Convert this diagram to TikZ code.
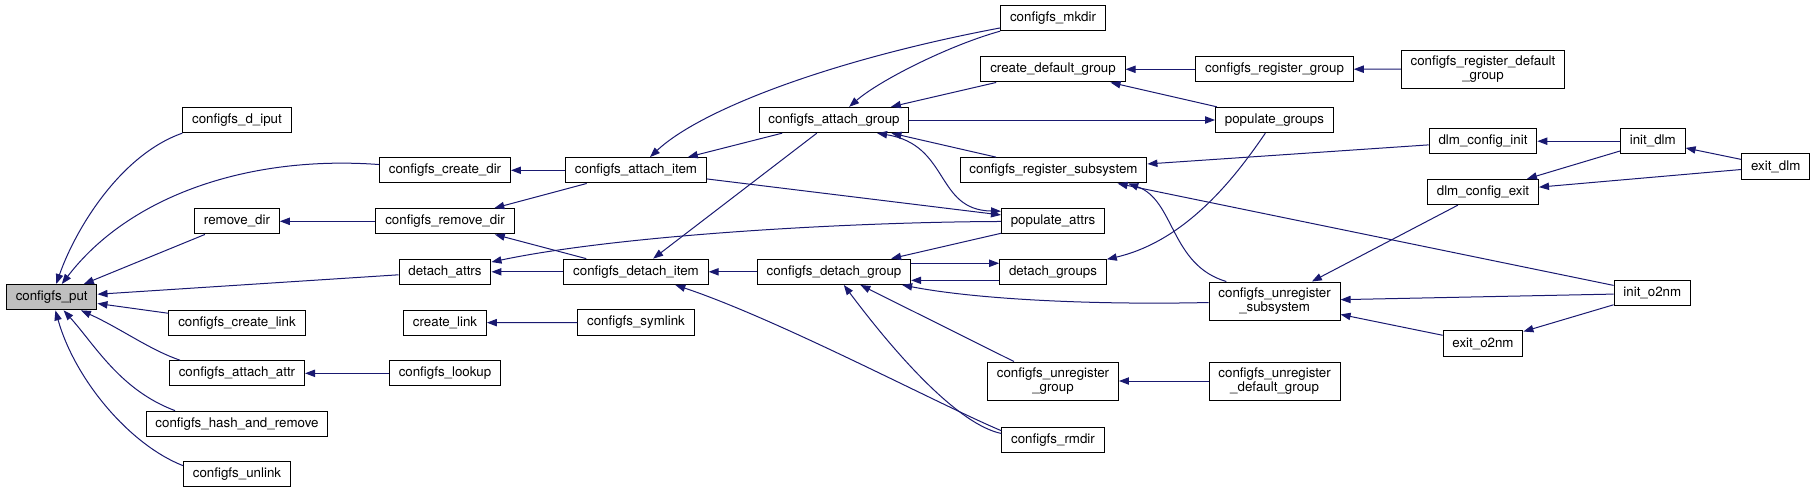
\documentclass[tikz,border=0pt]{standalone}
\usepackage{fontspec}
\setmainfont{TeX Gyre Heros}
\usetikzlibrary{arrows.meta}
\definecolor{dxEdge}{HTML}{191970}
\definecolor{dxRoot}{HTML}{BFBFBF}
\tikzset{
    % function boxes
    fn/.style={rectangle,draw=black,fill=white,line width=0.75pt,inner xsep=7pt,inner ysep=4pt,minimum height=19pt,align=center,font=\fontsize{10}{11}\selectfont},
    rootfn/.style={fn,fill=dxRoot},
    % call edges, tip at the callee
    call/.style={<-,line width=0.75pt,dxEdge},
    both/.style={<->,line width=0.75pt,dxEdge}
}

\begin{document}
\begin{tikzpicture}[x=0.75pt,y=-0.75pt,>={Triangle[length=7.5pt,width=5.5pt]}]
    \useasboundingbox (0,0) rectangle (1816,493);

    % Column 0
    \node[rootfn] (put) at (51.7,297.2) {configfs\_put};

    % Column 1
    \node[fn] (diput) at (237,120) {configfs\_d\_iput};
    \node[fn] (removedir) at (237,221.3) {remove\_dir};
    \node[fn] (cfglink) at (237,322.7) {configfs\_create\_link};
    \node[fn] (attachattr) at (237,373.3) {configfs\_attach\_attr};
    \node[fn] (hashremove) at (237,423.8) {configfs\_hash\_and\_remove};
    \node[fn] (unlink) at (237,474.2) {configfs\_unlink};

    % Column 2
    \node[fn] (createdir) at (445,170.3) {configfs\_create\_dir};
    \node[fn] (cfgremovedir) at (445,221.3) {configfs\_remove\_dir};
    \node[fn] (detachattrs) at (445,271.8) {detach\_attrs};
    \node[fn] (createlink) at (445,322.7) {create\_link};
    \node[fn] (lookup) at (445,373.3) {configfs\_lookup};

    % Column 3
    \node[fn] (attachitem) at (636,170.3) {configfs\_attach\_item};
    \node[fn] (detachitem) at (636,271.8) {configfs\_detach\_item};
    \node[fn] (symlink) at (636,322.5) {configfs\_symlink};

    % Column 4
    \node[fn] (attachgroup) at (834,120) {configfs\_attach\_group};
    \node[fn] (detachgroup) at (834,271.8) {configfs\_detach\_group};

    % Column 5
    \node[fn] (mkdir) at (1053,18) {configfs\_mkdir};
    \node[fn] (defgroup) at (1053,69.3) {create\_default\_group};
    \node[fn] (regsub) at (1053.5,170.3) {configfs\_register\_subsystem};
    \node[fn] (popattrs) at (1053,221.3) {populate\_attrs};
    \node[fn] (detachgroups) at (1053,271.8) {detach\_groups};
    \node[fn] (unreggroup) at (1053,381) {configfs\_unregister\\\_group};
    \node[fn] (rmdir) at (1053,439.8) {configfs\_rmdir};

    % Column 6
    \node[fn] (reggroup) at (1274.5,69.3) {configfs\_register\_group};
    \node[fn] (popgroups) at (1274.4,120) {populate\_groups};
    \node[fn] (unregsub) at (1274.6,301) {configfs\_unregister\\\_subsystem};
    \node[fn] (unregdefgroup) at (1274.6,381) {configfs\_unregister\\\_default\_group};

    % Column 7
    \node[fn] (regdefgroup) at (1483,69) {configfs\_register\_default\\\_group};
    \node[fn] (dlminit) at (1483,141.2) {dlm\_config\_init};
    \node[fn] (dlmexit) at (1483,192) {dlm\_config\_exit};
    \node[fn] (exito2nm) at (1483,343.5) {exit\_o2nm};

    % Columns 8 and 9
    \node[fn] (initdlm) at (1652.8,141.2) {init\_dlm};
    \node[fn] (inito2nm) at (1652.3,293.3) {init\_o2nm};
    \node[fn] (exitdlm) at (1775.7,166.5) {exit\_dlm};

    % Callers of configfs_put
    \draw[call] (put) .. controls (75,230) and (120,155) .. (diput.south west);
    \draw[call] (put) .. controls (130,195) and (250,155) .. (createdir.175);
    \draw[call] (put) -- (removedir);
    \draw[call] (put) -- (detachattrs);
    \draw[call] (put) -- (cfglink);
    \draw[call] (put) .. controls (120,328) and (150,350) .. (attachattr.167);
    \draw[call] (put) .. controls (95,345) and (120,390) .. (hashremove.168);
    \draw[call] (put) .. controls (75,380) and (130,445) .. (unlink.171);

    % Second level
    \draw[call] (createdir) -- (attachitem);
    \draw[call] (removedir) -- (cfgremovedir);
    \draw[call] (cfgremovedir) -- (attachitem);
    \draw[call] (cfgremovedir) -- (detachitem);
    \draw[call] (detachattrs) -- (detachitem);
    \draw[call] (detachattrs) .. controls (620,235) and (850,222) .. (popattrs);
    \draw[call] (createlink) -- (symlink);
    \draw[call] (attachattr) -- (lookup);

    % Item level
    \draw[call] (attachitem) -- (attachgroup);
    \draw[call] (attachitem) .. controls (700,110) and (830,60) .. (mkdir);
    \draw[call] (popattrs) -- (attachitem);
    \draw[call] (detachitem) -- (attachgroup);
    \draw[call] (detachitem) -- (detachgroup);
    \draw[call] (detachitem) .. controls (780,320) and (940,405) .. (rmdir.170);

    % Group level
    \draw[call] (attachgroup) .. controls (880,80) and (950,45) .. (mkdir.south west);
    \draw[call] (attachgroup) -- (defgroup);
    \draw[call] (popgroups) -- (attachgroup);
    \draw[call] (attachgroup) -- (regsub);
    \draw[both] (attachgroup.-17) .. controls (950,145) and (935,210) .. (popattrs.169);
    \draw[call] (detachgroup) .. controls (900,360) and (960,425) .. (rmdir.173);
    \draw[call] (detachgroup) -- (unreggroup);
    \draw[call] (detachgroup) .. controls (980,300) and (1100,305) .. (unregsub);
    \draw[call] (detachgroup) -- (popattrs);
    \draw[call] ([yshift=-6.4pt]detachgroup.east) -- ([yshift=-6.4pt]detachgroups.west);
    \draw[call] ([yshift=6.4pt]detachgroups.west) -- ([yshift=6.4pt]detachgroup.east);
    \draw[call] (detachgroups) .. controls (1190,240) and (1240,170) .. (popgroups);

    % Subsystem level
    \draw[call] (defgroup) -- (reggroup);
    \draw[call] (defgroup) -- (popgroups);
    \draw[call] (reggroup) -- (regdefgroup);
    \draw[call] (regsub) -- (dlminit);
    \draw[call] (regsub) -- (inito2nm);
    \draw[call] (regsub.350) .. controls (1175,200) and (1170,265) .. (unregsub.158);
    \draw[call] (unreggroup) -- (unregdefgroup);
    \draw[call] (unregsub) -- (dlmexit);
    \draw[call] (unregsub) -- (inito2nm);
    \draw[call] (unregsub) -- (exito2nm);
    \draw[call] (exito2nm) -- (inito2nm);
    \draw[call] (dlminit) -- (initdlm);
    \draw[call] (dlmexit) -- (initdlm);
    \draw[call] (dlmexit) -- (exitdlm);
    \draw[call] (initdlm) -- (exitdlm);
\end{tikzpicture}
\end{document}
